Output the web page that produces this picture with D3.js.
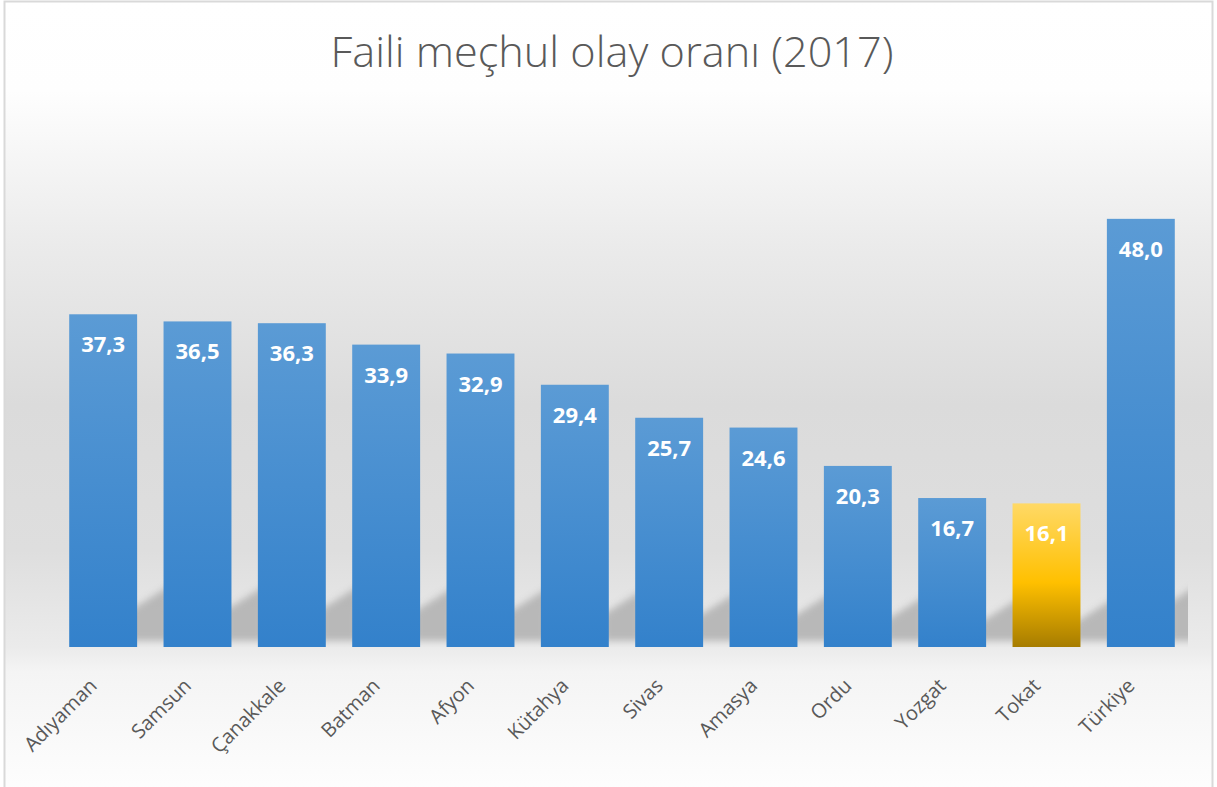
<!DOCTYPE html>
<html>
<head>
<meta charset="utf-8">
<script src="https://cdn.jsdelivr.net/npm/d3@7"></script>
<style>
  body { margin: 0; background: #fff; }
  svg { display: block; }
</style>
</head>
<body>
<div id="root"></div>
<script>
const width = 1217;
const height = 787;

// data
const cities = ['Adıyaman', 'Samsun', 'Çanakkale', 'Batman', 'Afyon', 'Kütahya',
    'Sivas', 'Amasya', 'Ordu', 'Yozgat', 'Tokat', 'Türkiye'];
const rates = [37.3, 36.5, 36.3, 33.9, 32.9, 29.4, 25.7, 24.6, 20.3, 16.7, 16.1, 48.0];
const highlight = 'Tokat';
const title = 'Faili meçhul olay oranı (2017)';

const margin = {left: 56, right: 29, bottom: 140};
const baseY = height - margin.bottom;

const svg = d3.select('#root')
    .append('svg')
    .attr('width', width)
    .attr('height', height);

const defs = svg.append('defs');

// background fade of the whole chart
const bg = defs.append('linearGradient')
    .attr('id', 'bg')
    .attr('x1', 0).attr('y1', 0).attr('x2', 0).attr('y2', 1);
[[0, '#ffffff'], [0.11, '#fefefe'], [0.3, '#ebebeb'], [0.5, '#dbdbdb'],
    [0.68, '#dedede'], [0.8, '#ebebeb'], [0.83, '#f4f4f4'], [1, '#ffffff']]
    .forEach(s => bg.append('stop').attr('offset', s[0]).attr('stop-color', s[1]));

const blue = defs.append('linearGradient')
    .attr('id', 'blue')
    .attr('x1', 0).attr('y1', 0).attr('x2', 0).attr('y2', 1);
blue.append('stop').attr('offset', 0).attr('stop-color', '#5b9bd5');
blue.append('stop').attr('offset', 1).attr('stop-color', '#3381cb');

const gold = defs.append('linearGradient')
    .attr('id', 'gold')
    .attr('x1', 0).attr('y1', 0).attr('x2', 0).attr('y2', 1);
gold.append('stop').attr('offset', 0).attr('stop-color', '#ffd966');
gold.append('stop').attr('offset', 0.55).attr('stop-color', '#ffc000');
gold.append('stop').attr('offset', 1).attr('stop-color', '#a67c00');

defs.append('filter')
    .attr('id', 'blur')
    .attr('x', '-50%').attr('y', '-50%').attr('width', '200%').attr('height', '200%')
    .append('feGaussianBlur')
    .attr('stdDeviation', 3.5);

defs.append('clipPath')
    .attr('id', 'plotclip')
    .append('rect')
    .attr('x', 0).attr('y', 0)
    .attr('width', width - margin.right)
    .attr('height', baseY);

svg.append('rect')
    .attr('x', 4.5).attr('y', 1.5)
    .attr('width', width - 9).attr('height', height + 20)
    .attr('fill', 'url(#bg)')
    .attr('stroke', '#d9d9d9')
    .attr('stroke-width', 2);

svg.append('text')
    .attr('x', 612)
    .attr('y', 67)
    .attr('text-anchor', 'middle')
    .attr('font-family', 'Open Sans, sans-serif')
    .attr('font-weight', 300)
    .attr('font-size', 42)
    .attr('fill', '#595959')
    .attr('textLength', 563)
    .attr('lengthAdjust', 'spacingAndGlyphs')
    .text(title);

const x = d3.scaleBand()
    .domain(cities)
    .range([margin.left, width - margin.right])
    .paddingInner(0.28)
    .paddingOuter(0.14);

const y = d3.scaleLinear()
    .domain([0, 50])
    .range([baseY, baseY - 446]);

const data = cities.map((c, i) => ({city: c, value: rates[i]}));
const gap = x.step() - x.bandwidth();

// soft floor shadows behind the bars
svg.append('g')
    .attr('clip-path', 'url(#plotclip)')
    .selectAll('path')
    .data(data)
    .join('path')
    .attr('filter', 'url(#blur)')
    .attr('fill', '#b0b0b0')
    .attr('opacity', 0.85)
    .attr('d', d => {
        const x1 = x(d.city) + x.bandwidth();
        const h = 28 + 0.07 * (baseY - y(d.value));
        const l = x1 - 6;
        const r = x1 + gap + 6;
        return `M${l},${baseY - 6}L${l},${baseY - h + 14}L${r},${baseY - h - 10}L${r},${baseY - 6}Z`;
    });

svg.append('g')
    .selectAll('rect')
    .data(data)
    .join('rect')
    .attr('x', d => x(d.city))
    .attr('y', d => y(d.value))
    .attr('width', x.bandwidth())
    .attr('height', d => baseY - y(d.value))
    .attr('fill', d => d.city === highlight ? 'url(#gold)' : 'url(#blue)');

const fmt = v => d3.format('.1f')(v).replace('.', ',');

svg.append('g')
    .selectAll('text')
    .data(data)
    .join('text')
    .attr('x', d => x(d.city) + x.bandwidth() / 2)
    .attr('y', d => y(d.value) + 38)
    .attr('text-anchor', 'middle')
    .attr('font-family', 'Open Sans, sans-serif')
    .attr('font-weight', 700)
    .attr('font-size', 22)
    .attr('fill', '#ffffff')
    .text(d => fmt(d.value));

// category axis, labels tilted 45 degrees
const axis = svg.append('g')
    .attr('transform', `translate(0,${baseY})`)
    .call(d3.axisBottom(x).tickSize(0).tickPadding(0));
axis.select('.domain').remove();
axis.selectAll('text')
    .attr('font-family', 'Open Sans, sans-serif')
    .attr('font-size', 20)
    .attr('fill', '#595959')
    .attr('text-anchor', 'end')
    .attr('dy', 0)
    .attr('transform', 'translate(-5,40) rotate(-45)');
</script>
</body>
</html>
